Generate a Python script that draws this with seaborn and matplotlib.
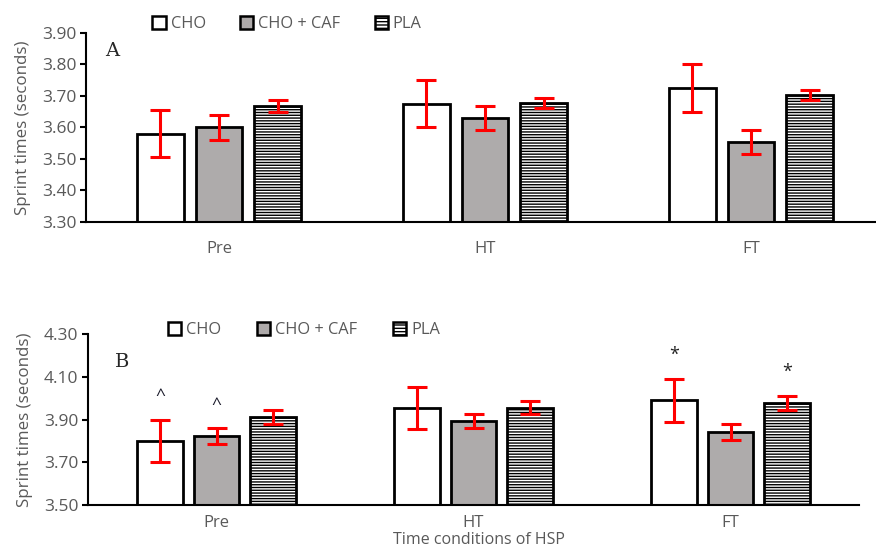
import matplotlib
matplotlib.use("Agg")
import matplotlib.pyplot as plt
from matplotlib.patches import Patch
import seaborn as sns
import pandas as pd
import numpy as np

conditions = ["Pre", "HT", "FT"]
treatments = ["CHO", "CHO + CAF", "PLA"]

# Panel A means / errors (rows = treatments, order = conditions)
a_cho = [3.58, 3.675, 3.725]
a_caf = [3.60, 3.63, 3.555]
a_pla = [3.668, 3.678, 3.703]
a_cho_err = [0.075, 0.075, 0.075]
a_caf_err = [0.04, 0.038, 0.038]
a_pla_err = [0.019, 0.015, 0.017]

# Panel B
b_cho = [3.80, 3.954, 3.99]
b_caf = [3.823, 3.893, 3.84]
b_pla = [3.912, 3.955, 3.977]
b_cho_err = [0.10, 0.10, 0.10]
b_caf_err = [0.037, 0.035, 0.038]
b_pla_err = [0.032, 0.03, 0.032]

# annotations in panel B: (condition index, treatment index, symbol)
b_marks = [(0, 0, "^"), (0, 1, "^"), (2, 0, "*"), (2, 2, "*")]

colors = {"CHO": "white", "CHO + CAF": "#AEAAAA", "PLA": "white"}
hatches = {"CHO": "", "CHO + CAF": "", "PLA": "------"}
grey = "#595959"

plt.rcParams["hatch.linewidth"] = 1.0
sns.set_style("white")
plt.rcParams["font.family"] = ["Open Sans", "DejaVu Sans"]

fig = plt.figure(figsize=(8.76, 5.48), dpi=100)
axA = fig.add_axes([86/876, (548-222)/548, (884-86)/876, (222-33)/548])
axB = fig.add_axes([88/876, (548-505)/548, (859-88)/876, (505-334)/548])


def draw(ax, means, errs, ylim, yticks, tickdir, ticklen, xpad):
    rows = []
    for t, m, e in zip(treatments, means, errs):
        for c, v, ev in zip(conditions, m, e):
            rows.append({"cond": c, "treat": t, "val": v, "err": ev})
    df = pd.DataFrame(rows)
    sns.barplot(data=df, x="cond", y="val", hue="treat", order=conditions,
                hue_order=treatments, errorbar=None, width=0.66, gap=0.2,
                palette=colors, edgecolor="black", linewidth=2.0, ax=ax,
                legend=False)
    centers = {}
    for ti, (t, cont) in enumerate(zip(treatments, ax.containers)):
        for ci, p in enumerate(cont.patches):
            p.set_hatch(hatches[t])
            cx = p.get_x() + p.get_width() / 2
            centers[(ci, ti)] = cx
            ax.errorbar(cx, means[ti][ci], yerr=errs[ti][ci], color="red",
                        lw=2.2, capsize=7.5, capthick=2.2, zorder=5)
    ax.set_ylim(*ylim)
    ax.set_yticks(yticks)
    ax.set_yticklabels([f"{v:.2f}" for v in yticks], color=grey, fontsize=12.5)
    ax.set_xlim(-0.5, 2.5)
    ax.set_xticks([0, 1, 2])
    ax.set_xticklabels(conditions, color=grey, fontsize=12)
    ax.tick_params(axis="x", length=0, pad=xpad)
    ax.set_xticks([-0.5, 0.5, 1.5, 2.5], minor=True)
    ax.tick_params(axis="x", which="minor", length=ticklen, width=1.5,
                   direction=tickdir, color="black")
    ax.tick_params(axis="y", length=4, width=1.5, color="black", direction="out",
                   left=True, pad=3)
    for s in ["top", "right"]:
        ax.spines[s].set_visible(False)
    for s in ["left", "bottom"]:
        ax.spines[s].set_color("black")
        ax.spines[s].set_linewidth(1.5)
    ax.set_xlabel("")
    ax.set_ylabel("Sprint times (seconds)", color=grey, fontsize=12.2, labelpad=8)
    return centers


draw(axA, [a_cho, a_caf, a_pla], [a_cho_err, a_caf_err, a_pla_err],
     (3.30, 3.90), np.round(np.arange(3.30, 3.901, 0.10), 2), "out", 6, 14)
cB = draw(axB, [b_cho, b_caf, b_pla], [b_cho_err, b_caf_err, b_pla_err],
          (3.50, 4.30), np.round(np.arange(3.50, 4.301, 0.20), 2), "inout", 12, 7)

bmeans = [b_cho, b_caf, b_pla]
berrs = [b_cho_err, b_caf_err, b_pla_err]
for ci, ti, sym in b_marks:
    y = bmeans[ti][ci] + berrs[ti][ci]
    if sym == "^":
        axB.annotate(sym, (cB[(ci, ti)], y), xytext=(0, 11), textcoords="offset points",
                     ha="center", va="bottom", fontsize=12.5, color="#1a1a2a")
    else:
        axB.annotate(sym, (cB[(ci, ti)], y), xytext=(0, 11), textcoords="offset points",
                     ha="center", va="bottom", fontsize=13, color="#222222")

axA.text(0.024, 0.905, "A", transform=axA.transAxes, fontsize=14,
         family="DejaVu Serif", va="center", ha="left")
axB.text(0.035, 0.836, "B", transform=axB.transAxes, fontsize=14,
         family="DejaVu Serif", va="center", ha="left")

handles = [Patch(facecolor=colors[t], edgecolor="black", linewidth=1.8,
                 hatch=("-----" if t == "PLA" else ""), label=t) for t in treatments]
fig.legend(handles=handles, loc="center", bbox_to_anchor=(287/876, 1 - 24/548),
           ncol=3, frameon=False, fontsize=11.8, handlelength=0.8, handleheight=0.8,
           handletextpad=0.3, columnspacing=2.1, labelcolor=grey)
fig.legend(handles=handles, loc="center", bbox_to_anchor=(304/876, 1 - 330/548),
           ncol=3, frameon=False, fontsize=11.8, handlelength=0.8, handleheight=0.8,
           handletextpad=0.3, columnspacing=2.2, labelcolor=grey)

fig.text(479/876, 0.5/548, "Time conditions of HSP", ha="center", va="bottom",
         color=grey, fontsize=11.5)

fig.savefig("out.png", dpi=100)
